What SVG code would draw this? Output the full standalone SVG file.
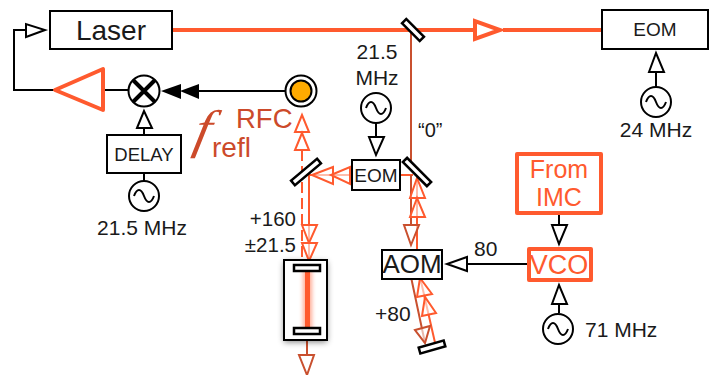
<svg xmlns="http://www.w3.org/2000/svg" width="710" height="375" viewBox="0 0 710 375">
<defs>
<style>
text{font-family:"Liberation Sans",Arial,sans-serif;fill:#1a1a1a}
.box{fill:#fff;stroke:#000;stroke-width:2}
.obox{fill:#fff;stroke:#ff5a2e;stroke-width:4;stroke-linejoin:round}
.k{fill:none;stroke:#000;stroke-width:2}
.tri{fill:#fff;stroke:#000;stroke-width:2}
.o{fill:none;stroke:#ff5a2e;stroke-width:2}
.d{fill:none;stroke:#c9502f;stroke-width:2}
.to{fill:#fff;fill-opacity:.6;stroke:#ff5a2e;stroke-width:2}
.td{fill:#fff;fill-opacity:.6;stroke:#c9502f;stroke-width:2}
.m{fill:#fff;stroke:#000;stroke-width:2.500}
.red{fill:#cc4a2a}
.org{fill:#ff5a2e}
</style>
<filter id="sh" x="-30%" y="-30%" width="160%" height="160%"><feGaussianBlur stdDeviation="3"/></filter>
<filter id="gl" x="-300%" y="-10%" width="700%" height="120%"><feGaussianBlur stdDeviation="2"/></filter>
<g id="sine"><circle r="15" fill="#fff" stroke="#000" stroke-width="2"/><path d="M-10,0C-7,-8 -3,-8 0,0S7,8 10,0" fill="none" stroke="#000" stroke-width="2"/></g>
</defs>
<g id="connectors">
<path d="M172,30H474M503,30H602" fill="none" stroke="#ff5a2e" stroke-width="4"/>
<polygon points="475,21 475,39 500,30" fill="#fff" stroke="#ff5a2e" stroke-width="4"/>
<path class="k" d="M54,90H14V30H26"/>
<polygon class="tri" points="26,24 26,37 45,30"/>
<path class="k" d="M103,90H130M198,91H286"/>
<polygon points="161,91 181,84 181,99" fill="#000"/>
<polygon points="180,91 199,84 199,99" fill="#000"/>
<path class="k" d="M144,135V128M144,173V181"/>
<polygon class="tri" points="137,128 144,111 152,128"/>
<path class="k" d="M656,72V87"/>
<polygon class="tri" points="649,72 656,53 664,72"/>
<path class="k" d="M376,123V137"/>
<polygon class="tri" points="369,137 384,137 376,155"/>
<path class="k" d="M528,264H467"/>
<polygon class="tri" points="467,257 467,271 447,264"/>
<path class="k" d="M559,214V225M559,304V313"/>
<polygon class="tri" points="552,225 567,225 559,244"/>
<polygon class="tri" points="552,304 567,304 559,285"/>
<path class="d" d="M411,30V168"/>
<path class="o" d="M400,175H413M309,175H352M309,172V265"/>
<path class="o" d="M302,150V263" stroke-dasharray="11 5"/>
<polygon class="to" points="302,115 295,132 309,132"/>
<polygon class="to" points="302,133 295,150 309,150"/>
<polygon class="to" points="312,175 333,167 333,184"/>
<polygon class="to" points="331,175 350,167 350,184"/>
<polygon class="to" points="302,225 317,225 309,243"/>
<polygon class="to" points="302,243 317,243 309,261"/>
<path class="d" d="M411,175V226M411,277L425,343"/>
<path class="o" d="M417,178V250M420,277L436,347"/>
<polygon class="to" points="417,178 410,198 425,198"/>
<polygon class="to" points="417,198 410,217 425,217"/>
<polygon class="td" points="404,225 419,225 411,245"/>
<polygon class="to" points="420,278 417,297 432,294"/>
<polygon class="to" points="425,297 422,316 436,313"/>
<polygon class="td" points="415,330 430,326 425,343"/>
<path d="M307,340V355" class="d"/>
<polygon class="td" points="299,355 314,355 307,375"/>
</g>
<g id="laser"><rect class="box" x="50" y="11" width="122" height="38"/><text x="111" y="40" font-size="28" text-anchor="middle">Laser</text></g>
<g id="eom-out"><rect class="box" x="602" y="10" width="106" height="39"/><text x="655" y="36" font-size="19" text-anchor="middle">EOM</text></g>
<g id="osc-24"><use href="#sine" x="656" y="102"/><text x="656" y="137" font-size="21" text-anchor="middle">24 MHz</text></g>
<g id="amp"><polygon points="55,90 103,69 103,110" fill="#fff" stroke="#ff5a2e" stroke-width="4" stroke-linejoin="round"/></g>
<g id="mixer"><circle cx="144" cy="91" r="15.500" fill="#fff" stroke="#000" stroke-width="2"/><path d="M133,80L155,102M155,80L133,102" stroke="#000" stroke-width="4"/></g>
<g id="rfc"><circle cx="301" cy="91" r="15.500" fill="#fff" stroke="#000" stroke-width="2"/><circle cx="301" cy="91" r="10.500" fill="#ffab00" stroke="#000" stroke-width="2"/><text class="red" x="236" y="128" font-size="27.500">RFC</text></g>
<g id="delay"><rect class="box" x="107" y="135" width="74" height="38"/><text x="144" y="161" font-size="18.500" text-anchor="middle">DELAY</text></g>
<g id="osc-delay"><use href="#sine" x="144" y="196"/><text x="142" y="235" font-size="21" text-anchor="middle">21.5 MHz</text></g>
<g id="frefl"><text transform="translate(192,147) skewX(-12) scale(1.12,1.04)" font-size="51" font-style="italic" style="font-family:'Liberation Serif',serif;fill:#cc4a2a">f</text><text class="red" x="212" y="157" font-size="28" style="fill:#cc4a2a">refl</text></g>
<g id="mirror-top"><rect class="m" x="-12.500" y="-3" width="25" height="6" transform="translate(413,30) rotate(45)"/></g>
<g id="osc-eom"><text x="377" y="59" font-size="21" text-anchor="middle">21.5</text><text x="377" y="85" font-size="21" text-anchor="middle">MHz</text><use href="#sine" x="376" y="108"/></g>
<g id="zero"><text x="418" y="137" font-size="20">“0”</text></g>
<g id="eom-mid"><rect class="box" x="352" y="160" width="48" height="30"/><text x="376" y="182" font-size="19" text-anchor="middle">EOM</text></g>
<g id="mirror-left"><rect class="m" x="-17" y="-3" width="34" height="6" transform="translate(306,172) rotate(-40)"/></g>
<g id="mirror-right"><rect class="m" x="-17" y="-3" width="34" height="6" transform="translate(417,172) rotate(45)"/></g>
<g id="label-160"><text x="296" y="226" font-size="20.500" text-anchor="end">+160</text><text x="296" y="252" font-size="20.500" text-anchor="end">±21.5</text></g>
<g id="cavity"><rect x="284" y="262" width="43" height="80" fill="#000" opacity=".5" filter="url(#sh)"/><rect x="284" y="260" width="43" height="80" fill="#fff" stroke="#000" stroke-width="2"/><rect x="303" y="270" width="9" height="60" fill="#ff5a2e" opacity=".5" filter="url(#gl)"/><rect x="305" y="270" width="5" height="60" fill="#ff5a2e"/><rect class="m" x="294" y="265" width="26" height="6"/><rect class="m" x="294" y="328" width="26" height="6"/></g>
<g id="aom"><rect class="box" x="382" y="250" width="60" height="29"/><text x="412" y="273" font-size="26" text-anchor="middle">AOM</text></g>
<g id="mirror-aom"><rect class="m" x="-13" y="-3" width="26" height="6" transform="translate(432,347) rotate(-16)"/></g>
<g id="label-80p"><text x="375" y="321" font-size="21">+80</text></g>
<g id="label-80"><text x="474" y="256" font-size="21">80</text></g>
<g id="vco"><rect class="obox" x="529" y="249" width="62" height="31"/><text x="559" y="274" font-size="27" text-anchor="middle" style="fill:#ff5a2e">VCO</text></g>
<g id="from-imc"><rect class="obox" x="517" y="154" width="84" height="59"/><text x="559" y="178" font-size="25" text-anchor="middle" style="fill:#ff5a2e">From</text><text x="559" y="206" font-size="25" text-anchor="middle" style="fill:#ff5a2e">IMC</text></g>
<g id="osc-71"><use href="#sine" x="558" y="329"/><text x="585" y="337" font-size="21">71 MHz</text></g>
</svg>
